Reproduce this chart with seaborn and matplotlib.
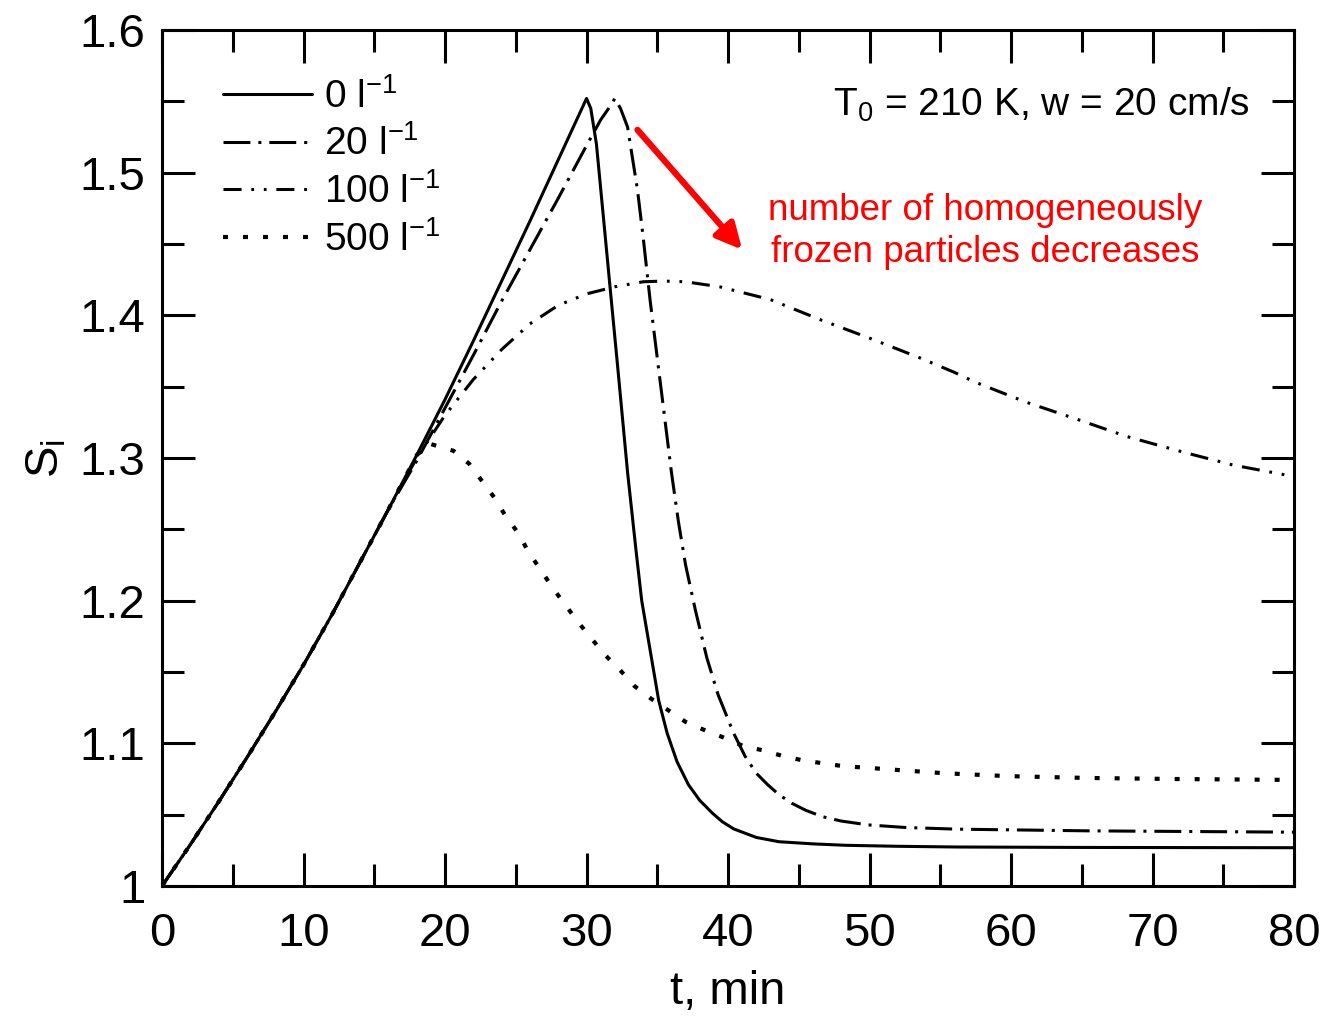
import numpy as np
import pandas as pd
import matplotlib
matplotlib.use("Agg")
import matplotlib.pyplot as plt
from matplotlib.ticker import MultipleLocator, FuncFormatter
import seaborn as sns

# --- ice saturation ratio S_i versus time for four ice-nuclei concentrations ---
t_0 = [0, 2, 4, 6, 8, 10, 12, 14, 16, 18, 20, 22, 24, 26, 28, 30, 30.3, 30.7,
       31.2, 31.66, 32.2, 32.9, 33.5, 33.9, 35.1, 35.7, 36.4, 37.2, 38.0, 38.9,
       39.6, 40.4, 41.2, 42.0, 43.6, 46.0, 48.3, 52.0, 56.2, 65.0, 80.0]
s_0 = [1.000, 1.029, 1.059, 1.090, 1.122, 1.155, 1.190, 1.227, 1.264, 1.302,
       1.341, 1.382, 1.424, 1.466, 1.509, 1.552, 1.545, 1.520, 1.468, 1.420,
       1.364, 1.290, 1.235, 1.200, 1.130, 1.107, 1.087, 1.071, 1.060, 1.051,
       1.045, 1.040, 1.037, 1.034, 1.031, 1.0295, 1.0285, 1.0278, 1.0273,
       1.027, 1.0268]

t_20 = [0, 2, 4, 6, 8, 10, 12, 14, 16, 18, 20, 22, 24, 26, 28, 30, 31.0, 31.7,
        32.0, 32.4, 32.9, 33.6, 34.0, 34.5, 35.0, 35.5, 36.0, 36.5, 37.0, 37.7,
        38.5, 39.3, 40.4, 41.2, 42.0, 42.8, 43.6, 44.5, 45.5, 46.7, 48.0, 49.9,
        52.5, 56.2, 65.7, 80.0]
s_20 = [1.000, 1.029, 1.059, 1.090, 1.122, 1.155, 1.190, 1.227, 1.264, 1.298,
        1.335, 1.372, 1.410, 1.446, 1.482, 1.519, 1.537, 1.547, 1.552, 1.545,
        1.532, 1.488, 1.455, 1.410, 1.370, 1.330, 1.290, 1.255, 1.225, 1.193,
        1.160, 1.134, 1.107, 1.091, 1.079, 1.071, 1.064, 1.058, 1.053, 1.0485,
        1.0455, 1.0428, 1.041, 1.0398, 1.0386, 1.0377]

t_100 = [0, 2, 4, 6, 8, 10, 12, 14, 16, 18, 20, 22, 24, 26, 28, 30, 32, 34,
         35.4, 37.0, 39.4, 43.0, 46.5, 50.0, 53.6, 56.0, 57.5, 61.1, 64.7, 68.2,
         72.2, 75.7, 80.0]
s_100 = [1.000, 1.029, 1.059, 1.090, 1.122, 1.155, 1.190, 1.227, 1.264, 1.300,
         1.330, 1.355, 1.376, 1.394, 1.407, 1.415, 1.420, 1.4235, 1.424, 1.4235,
         1.420, 1.411, 1.397, 1.384, 1.370, 1.360, 1.353, 1.339, 1.327, 1.315,
         1.304, 1.295, 1.287]

t_500 = [0, 2, 4, 6, 8, 10, 12, 14, 16, 18, 18.9, 20.6, 21.7, 22.6, 23.5, 24.3,
         25.2, 25.9, 26.8, 27.6, 28.5, 29.4, 30.3, 31.3, 32.4, 33.4, 34.6, 35.8,
         37.0, 38.4, 39.7, 41.1, 42.5, 43.9, 45.3, 46.7, 48.1, 49.6, 52.4, 55.3,
         59.7, 65.4, 71.2, 80.0]
s_500 = [1.000, 1.029, 1.059, 1.090, 1.122, 1.155, 1.190, 1.227, 1.264, 1.302,
         1.310, 1.305, 1.296, 1.284, 1.272, 1.259, 1.247, 1.234, 1.221, 1.209,
         1.197, 1.185, 1.174, 1.162, 1.151, 1.140, 1.131, 1.123, 1.115, 1.109,
         1.104, 1.098, 1.095, 1.091, 1.088, 1.086, 1.084, 1.083, 1.081, 1.079,
         1.077, 1.0757, 1.075, 1.0743]

series_labels = [r"0 l$^{\mathregular{-1}}$", r"20 l$^{\mathregular{-1}}$",
                 r"100 l$^{\mathregular{-1}}$", r"500 l$^{\mathregular{-1}}$"]
x_ticks = [0, 10, 20, 30, 40, 50, 60, 70, 80]
y_ticks = [1.0, 1.1, 1.2, 1.3, 1.4, 1.5, 1.6]

sns.set_style("ticks")
plt.rcParams["font.family"] = ["Liberation Sans", "DejaVu Sans"]
plt.rcParams["mathtext.fontset"] = "custom"
plt.rcParams["mathtext.rm"] = "Liberation Sans"
plt.rcParams["mathtext.it"] = "Liberation Sans:italic"
plt.rcParams["mathtext.bf"] = "Liberation Sans:bold"
for key in ["text.color", "axes.labelcolor", "xtick.color", "ytick.color",
            "axes.edgecolor"]:
    plt.rcParams[key] = "black"

fig = plt.figure(figsize=(13.25, 10.16), dpi=100)
ax = fig.add_axes([0.1223, 0.1280, 0.8543, 0.8425])

lw = 2.2
styles = [
    ("-", lw),
    ((0, (8.8, 2.6, 1.0, 2.6)), lw),
    ((0, (5.9, 3.2, 0.9, 3.2, 0.9, 3.2)), lw),
    ((0, (1.2, 3.6)), 3.0),
]
curves = [(t_0, s_0), (t_20, s_20), (t_100, s_100), (t_500, s_500)]

for (tt, ss), lab, (ls, w) in zip(curves, series_labels, styles):
    df = pd.DataFrame({"t": tt, "S": ss})
    sns.lineplot(data=df, x="t", y="S", ax=ax, color="black", linewidth=w,
                 label=lab, estimator=None)
    ax.lines[-1].set_linestyle(ls)

ax.set_xlim(0, 80)
ax.set_ylim(1.0, 1.6)
ax.set_xticks(x_ticks)
ax.set_yticks(y_ticks)
ax.xaxis.set_minor_locator(MultipleLocator(5))
ax.yaxis.set_minor_locator(MultipleLocator(0.05))
ax.yaxis.set_major_formatter(FuncFormatter(lambda v, p: "1" if abs(v - 1) < 1e-9 else f"{v:.1f}"))
ax.tick_params(which="both", direction="in", top=True, right=True, width=2.2,
               color="black", labelcolor="black")
ax.tick_params(which="major", length=24, labelsize=34, pad=12)
ax.tick_params(which="minor", length=16)
ax.tick_params(axis="x", which="major", pad=19)
for sp in ax.spines.values():
    sp.set_linewidth(2.2)
    sp.set_color("black")

ax.set_xlabel("t, min", fontsize=34, labelpad=10)
ax.set_ylabel(r"S$_{\mathregular{i}}$", fontsize=34, labelpad=8)

leg = ax.legend(loc="upper left", bbox_to_anchor=(0.04, 0.962), frameon=False,
                fontsize=28, handlelength=2.3, handletextpad=0.3,
                labelspacing=0.25, borderaxespad=0)

ax.text(76.9, 1.540, r"T$_{\mathregular{0}}$ = 210 K, w = 20 cm/s", fontsize=28,
        ha="right", va="baseline")

ax.annotate("", xy=(41.0, 1.446), xytext=(33.6, 1.530),
            arrowprops=dict(arrowstyle="-|>", color="red", lw=4.5,
                            mutation_scale=38, shrinkA=0, shrinkB=0))
ax.text(58.2, 1.459, "number of homogeneously\nfrozen particles decreases",
        color="red", fontsize=26.5, ha="center", va="center",
        multialignment="center", linespacing=1.25)

fig.savefig("out.png", dpi=100)
